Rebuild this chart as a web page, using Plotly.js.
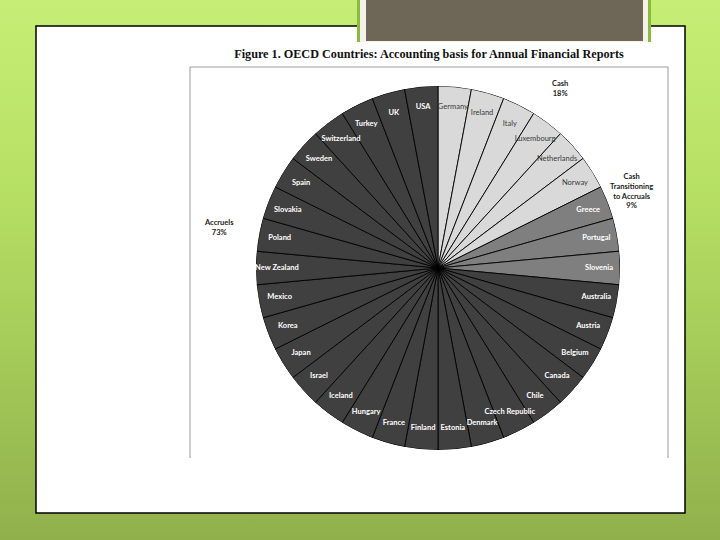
<!DOCTYPE html>
<html>
<head>
<meta charset="utf-8">
<script src="https://cdn.plot.ly/plotly-3.0.1.min.js"></script>
<style>
  html, body { margin: 0; padding: 0; }
  body {
    width: 720px; height: 540px; overflow: hidden;
    background: linear-gradient(to bottom, #c6ee76 0%, #b6e064 35%, #a2c757 70%, #90b04c 100%);
  }
  #chart { width: 720px; height: 540px; }
</style>
</head>
<body>
<div id="chart"></div>
<script>
// ---- Data ----
const cashCountries = ["Germany", "Ireland", "Italy", "Luxembourg", "Netherlands", "Norway"];
const transitionCountries = ["Greece", "Portugal", "Slovenia"];
const accrualCountries = ["Australia", "Austria", "Belgium", "Canada", "Chile", "Czech Republic",
  "Denmark", "Estonia", "Finland", "France", "Hungary", "Iceland", "Israel", "Japan", "Korea",
  "Mexico", "New Zealand", "Poland", "Slovakia", "Spain", "Sweden", "Switzerland", "Turkey", "UK", "USA"];
// one country = one unit
const cashWeights = [1, 1, 1, 1, 1, 1];
const transitionWeights = [1, 1, 1];
const accrualWeights = [1, 1, 1, 1, 1, 1, 1, 1, 1, 1, 1, 1, 1, 1, 1, 1, 1, 1, 1, 1, 1, 1, 1, 1, 1];
const groupNames = ["Cash", "Cash<br>Transitioning<br>to Accruals", "Accruels"];
const groupShares = ["18%", "9%", "73%"];
const chartTitle = "Figure 1. OECD Countries: Accounting basis for Annual Financial Reports";

// ---- Styles ----
const groupFill = ["#d9d9d9", "#7f7f7f", "#404040"];
const groupText = ["#3a3a3a", "#ffffff", "#ffffff"];

const countries = [].concat(cashCountries, transitionCountries, accrualCountries);
const weights = [].concat(cashWeights, transitionWeights, accrualWeights);
const groupOf = [].concat(cashCountries.map(() => 0), transitionCountries.map(() => 1), accrualCountries.map(() => 2));
const nSlices = countries.length;

const W = 720, H = 540;
const px = x => x / W;
const py = y => 1 - y / H;
const pieDomain = { x: [px(256), px(620)], y: [py(450), py(86)] };

// equal wedges (one per country) drawn as a full-circle bar-polar "pie"
const wedges = {
  type: "barpolar",
  r: weights,
  theta: countries,
  marker: { color: groupOf.map(g => groupFill[g]), line: { color: "#000000", width: 0.9 } },
  hoverinfo: "theta",
  showlegend: false,
  subplot: "polar"
};

const labelTrace = {
  type: "scatterpolar",
  mode: "text",
  r: countries.map(() => 0.885),
  theta: countries,
  text: countries,
  textposition: "middle center",
  cliponaxis: false,
  textfont: {
    family: "Lato, 'Open Sans', sans-serif",
    size: 7.5,
    color: groupOf.map(g => groupText[g]),
    weight: groupOf.map(g => g === 0 ? 400 : 700)
  },
  hoverinfo: "skip",
  showlegend: false,
  subplot: "polar"
};

const groupFont = { family: "Lato, sans-serif", size: 7.5, color: "#222222", weight: 700 };

const layout = {
  width: W, height: H,
  margin: { l: 0, r: 0, t: 0, b: 0 },
  paper_bgcolor: "rgba(0,0,0,0)",
  plot_bgcolor: "rgba(0,0,0,0)",
  title: {
    text: "<b>" + chartTitle + "</b>",
    font: { family: "'Liberation Serif', 'Times New Roman', serif", size: 12.2, color: "#111111" },
    x: px(429), xanchor: "center", y: py(54), yanchor: "middle", xref: "paper", yref: "paper"
  },
  polar: {
    domain: pieDomain,
    bgcolor: "rgba(0,0,0,0)",
    bargap: 0,
    radialaxis: { visible: false, range: [0, 1] },
    angularaxis: {
      visible: false, type: "category", categoryarray: countries,
      direction: "clockwise", rotation: 90 - 360 / nSlices / 2
    }
  },
  shapes: [
    // white slide box
    { type: "rect", xref: "paper", yref: "paper", x0: px(36), x1: px(685), y0: py(513), y1: py(26),
      fillcolor: "#ffffff", line: { color: "#000000", width: 1.5 }, layer: "below" },
    // header tab (green edges, pale frame, brown fill)
    { type: "rect", xref: "paper", yref: "paper", x0: px(357), x1: px(651), y0: py(42), y1: py(-2),
      fillcolor: "#8cba3c", line: { width: 0 }, layer: "below" },
    { type: "rect", xref: "paper", yref: "paper", x0: px(360), x1: px(648), y0: py(42), y1: py(-2),
      fillcolor: "#f3f1ea", line: { width: 0 }, layer: "below" },
    { type: "rect", xref: "paper", yref: "paper", x0: px(366), x1: px(643), y0: py(41), y1: py(-2),
      fillcolor: "#6e6758", line: { width: 0 }, layer: "below" },
    // inner chart frame
    { type: "line", xref: "paper", yref: "paper", x0: px(190), x1: px(668), y0: py(67), y1: py(67),
      line: { color: "#9a9a9a", width: 1 }, layer: "below" },
    { type: "line", xref: "paper", yref: "paper", x0: px(190), x1: px(190), y0: py(67), y1: py(458),
      line: { color: "#9a9a9a", width: 1 }, layer: "below" },
    { type: "line", xref: "paper", yref: "paper", x0: px(668), x1: px(668), y0: py(67), y1: py(458),
      line: { color: "#9a9a9a", width: 1 }, layer: "below" }
  ],
  annotations: [
    { xref: "paper", yref: "paper", x: px(560), y: py(88), xanchor: "center", yanchor: "middle",
      showarrow: false, text: groupNames[0] + "<br>" + groupShares[0], align: "center", font: groupFont },
    { xref: "paper", yref: "paper", x: px(631), y: py(191), xanchor: "center", yanchor: "middle",
      showarrow: false, text: groupNames[1] + "<br>" + groupShares[1], align: "center", font: groupFont },
    { xref: "paper", yref: "paper", x: px(219), y: py(227), xanchor: "center", yanchor: "middle",
      showarrow: false, text: groupNames[2] + "<br>" + groupShares[2], align: "center", font: groupFont }
  ]
};

Plotly.newPlot("chart", [wedges, labelTrace], layout, { displayModeBar: false, staticPlot: true });
</script>
</body>
</html>
